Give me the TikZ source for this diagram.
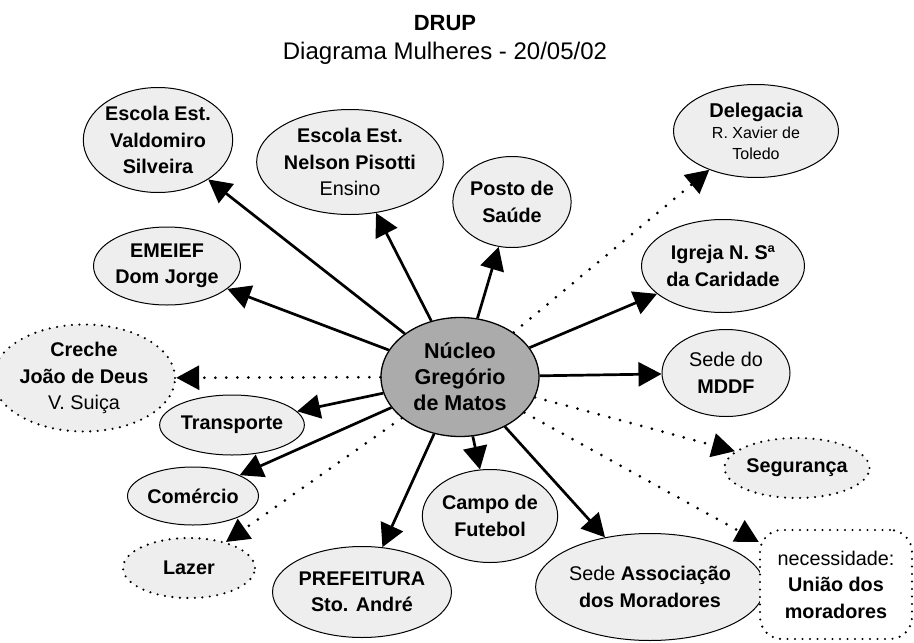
\documentclass[tikz,border=0pt]{standalone}
\usepackage{fontspec}
\setmainfont{Liberation Sans}
\usetikzlibrary{shapes.geometric,arrows.meta}
\definecolor{ndfill}{HTML}{EEEEEE}
\definecolor{ctrfill}{HTML}{ABABAB}
\begin{document}
\begin{tikzpicture}[x=1pt,y=-1pt,
  nd/.style={ellipse,draw=black,line width=1pt,fill=ndfill,inner sep=0pt,align=center,
    font=\fontsize{19.8}{26.5}\selectfont\bfseries},
  dotnd/.style={nd,line width=2.4pt,line cap=round,dash pattern=on 0pt off 7.5pt},
  conn/.style={line width=2.7pt,-{Triangle[length=23pt,width=24pt]}},
  dotconn/.style={line width=3pt,line cap=round,dash pattern=on 0pt off 11pt,-{Triangle[length=23pt,width=24pt]}},
]
\useasboundingbox (0,0) rectangle (914,643);
% title
\node[anchor=base,font=\fontsize{22}{26}\selectfont\bfseries] (drup) at (445,30) {DRUP};
\node[anchor=base,font=\fontsize{24}{28}\selectfont] (sub) at (445,59) {Diagrama Mulheres - 20/05/02};
% center
\node[nd,fill=ctrfill,line width=1.3pt,minimum width=158pt,minimum height=119pt,
  font=\fontsize{21.5}{26}\selectfont\bfseries] (c) at (460,377) {Núcleo\\Gregório\\de Matos};
% satellites
\node[nd,minimum width=148pt,minimum height=105pt] (valdo) at (158,140) {Escola Est.\\Valdomiro\\Silveira};
\node[nd,minimum width=168pt,minimum height=105pt] (nelson) at (350,162) {Escola Est.\\Nelson Pisotti\\{\mdseries Ensino}};
\node[nd,minimum width=116pt,minimum height=91pt] (posto) at (512,202) {Posto de\\Saúde};
\node[nd,minimum width=147pt,minimum height=78pt] (emeief) at (167,266) {EMEIEF\\Dom Jorge};
\node[dotnd,minimum width=148pt,minimum height=107pt] (creche) at (84,378) {Creche\\João de Deus\\{\mdseries V. Suiça}};
\node[nd,minimum width=130pt,minimum height=60pt] (transp) at (232,425) {Transporte};
\node[nd,minimum width=131pt,minimum height=58pt] (comer) at (193,496) {Comércio};
\node[dotnd,minimum width=132pt,minimum height=60pt] (lazer) at (189,568) {Lazer};
\node[nd,minimum width=170pt,minimum height=91pt] (pref) at (362,592) {PREFEITURA\\Sto. André};
\node[nd,minimum width=132pt,minimum height=93pt] (campo) at (490,516) {Campo de\\Futebol};
\node[nd,minimum width=196pt,minimum height=107pt] (assoc) at (650,587) {{\mdseries Sede} Associação\\dos Moradores};
\node[rectangle,rounded corners=22pt,draw=black,fill=white,line width=2.4pt,line cap=round,
  dash pattern=on 0pt off 7.5pt,minimum width=152pt,minimum height=109pt,inner sep=0pt,align=center,
  font=\fontsize{19.8}{26.5}\selectfont\bfseries] (uniao) at (836,584.5) {{\mdseries necessidade:}\\União dos\\moradores};
\node[dotnd,minimum width=145pt,minimum height=60pt] (segur) at (797,468) {Segurança};
\node[nd,minimum width=128pt,minimum height=87pt] (mddf) at (726,373) {{\mdseries Sede do}\\MDDF};
\node[nd,minimum width=163pt,minimum height=93pt] (igreja) at (723,266) {Igreja N. Sª\\da Caridade};
\node[nd,minimum width=165pt,minimum height=93pt,font=\fontsize{16}{21}\selectfont] (deleg) at (756,131)
  {{\fontsize{20}{21}\selectfont\bfseries Delegacia}\\R. Xavier de\\Toledo};
% connectors
\draw[conn] (c) -- (valdo);
\draw[conn] (c) -- (nelson);
\draw[conn] (c) -- (posto);
\draw[conn] (c) -- (emeief);
\draw[dotconn] (c) -- (creche);
\draw[conn] (c) -- (transp);
\draw[conn] (c) -- (comer);
\draw[dotconn] (c) -- (lazer);
\draw[conn] (c) -- (pref);
\draw[conn] (c) -- (campo);
\draw[conn] (c) -- (assoc);
\draw[dotconn] (c) -- (uniao);
\draw[dotconn] (c) -- (segur);
\draw[conn] (c) -- (mddf);
\draw[conn] (c) -- (igreja);
\draw[dotconn] (c) -- (deleg);
\end{tikzpicture}
\end{document}
